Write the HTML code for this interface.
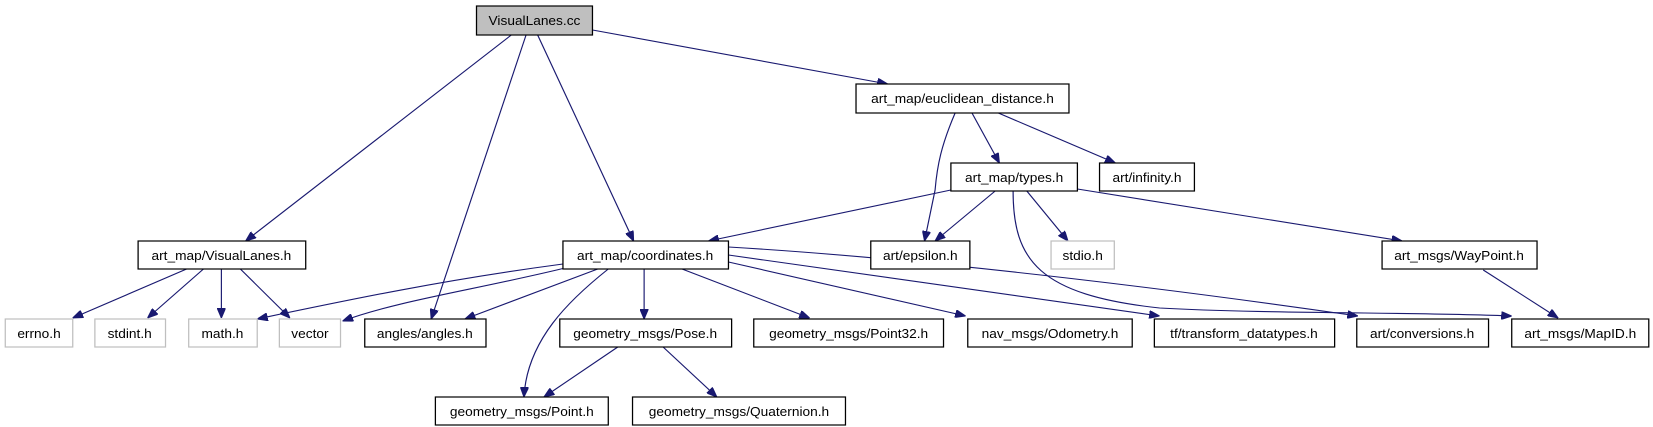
<!DOCTYPE html>
<html><head><meta charset="utf-8"><style>
html,body{margin:0;padding:0;background:#fff;}
svg{display:block}
text{font-family:"Liberation Sans",sans-serif;font-size:13px;fill:#000}
.e{stroke:#191970;stroke-width:1.1;fill:none;marker-end:url(#a)}
.n{fill:#fff;stroke:#000;stroke-width:1.2}
.g{fill:#fff;stroke:#bfbfbf;stroke-width:1.2}
</style></head><body>
<svg width="1653" height="427" viewBox="0 0 1568 427" preserveAspectRatio="none" xmlns="http://www.w3.org/2000/svg">
<defs><marker id="a" viewBox="0 0 10 8" refX="10" refY="4" markerWidth="10" markerHeight="8" markerUnits="userSpaceOnUse" orient="auto"><path d="M0,0 L10,4 L0,8 z" fill="#191970" stroke="#191970"/></marker></defs>
<g>
<path class="e" d="M485,35 L233,241"/>
<path class="e" d="M499,35 L409,319"/>
<path class="e" d="M510,35 L601,241"/>
<path class="e" d="M562,30 L842,84"/>
<path class="e" d="M906,113 C893,145 889,165 887,190 L877,241"/>
<path class="e" d="M922,113 L948,163"/>
<path class="e" d="M947,113 L1058,163"/>
<path class="e" d="M902,190 L672,241"/>
<path class="e" d="M944,191 L887,241"/>
<path class="e" d="M974,191 L1013,241"/>
<path class="e" d="M1022,189 L1330,241"/>
<path class="e" d="M961,191 C961,260 985,295 1100,308 C1200,314 1350,312 1434,316"/>
<path class="e" d="M691,247 C900,260 1150,295 1288,316"/>
<path class="e" d="M691,255 L1100,316"/>
<path class="e" d="M691,262 L916,316"/>
<path class="e" d="M647,269 L768,318"/>
<path class="e" d="M611,269 L611,319"/>
<path class="e" d="M577,269 C540,300 500,340 497,397"/>
<path class="e" d="M567,269 L441,319"/>
<path class="e" d="M536,268 C450,290 380,300 325,321"/>
<path class="e" d="M534,264 C420,280 330,300 244,319"/>
<path class="e" d="M177,269 L69,318"/>
<path class="e" d="M193,269 L140,318"/>
<path class="e" d="M210,269 L210,318"/>
<path class="e" d="M228,269 L275,318"/>
<path class="e" d="M586,347 L516,397"/>
<path class="e" d="M629,347 L680,397"/>
<path class="e" d="M1407,270 L1478,318"/>
</g>
<g>
<rect x="452" y="6" width="110" height="29" fill="#bfbfbf" stroke="#000" stroke-width="1.2"/>
<text x="507" y="25" text-anchor="middle">VisualLanes.cc</text>

<rect class="n" x="812" y="84" width="202" height="29"/><text x="913" y="103" text-anchor="middle">art_map/euclidean_distance.h</text>
<rect class="n" x="902" y="163" width="120" height="28"/><text x="962" y="182" text-anchor="middle">art_map/types.h</text>
<rect class="n" x="1043" y="163" width="90" height="28"/><text x="1088" y="182" text-anchor="middle">art/infinity.h</text>

<rect class="n" x="131" y="241" width="159" height="28"/><text x="210" y="260" text-anchor="middle">art_map/VisualLanes.h</text>
<rect class="n" x="534" y="241" width="157" height="28"/><text x="612" y="260" text-anchor="middle">art_map/coordinates.h</text>
<rect class="n" x="826" y="241" width="94" height="28"/><text x="873" y="260" text-anchor="middle">art/epsilon.h</text>
<rect class="g" x="997" y="241" width="60" height="28"/><text x="1027" y="260" text-anchor="middle">stdio.h</text>
<rect class="n" x="1311" y="241" width="147" height="28"/><text x="1384" y="260" text-anchor="middle">art_msgs/WayPoint.h</text>

<rect class="g" x="5" y="319" width="64" height="28"/><text x="37" y="338" text-anchor="middle">errno.h</text>
<rect class="g" x="90" y="319" width="67" height="28"/><text x="123" y="338" text-anchor="middle">stdint.h</text>
<rect class="g" x="179" y="319" width="65" height="28"/><text x="211" y="338" text-anchor="middle">math.h</text>
<rect class="g" x="265" y="319" width="58" height="28"/><text x="294" y="338" text-anchor="middle">vector</text>
<rect class="n" x="346" y="319" width="115" height="28"/><text x="403" y="338" text-anchor="middle">angles/angles.h</text>
<rect class="n" x="531" y="319" width="163" height="28"/><text x="612" y="338" text-anchor="middle">geometry_msgs/Pose.h</text>
<rect class="n" x="715" y="319" width="180" height="28"/><text x="805" y="338" text-anchor="middle">geometry_msgs/Point32.h</text>
<rect class="n" x="918" y="319" width="156" height="28"/><text x="996" y="338" text-anchor="middle">nav_msgs/Odometry.h</text>
<rect class="n" x="1095" y="319" width="171" height="28"/><text x="1180" y="338" text-anchor="middle">tf/transform_datatypes.h</text>
<rect class="n" x="1287" y="319" width="125" height="28"/><text x="1349" y="338" text-anchor="middle">art/conversions.h</text>
<rect class="n" x="1434" y="319" width="130" height="28"/><text x="1499" y="338" text-anchor="middle">art_msgs/MapID.h</text>

<rect class="n" x="413" y="397" width="164" height="28"/><text x="495" y="416" text-anchor="middle">geometry_msgs/Point.h</text>
<rect class="n" x="600" y="397" width="202" height="28"/><text x="701" y="416" text-anchor="middle">geometry_msgs/Quaternion.h</text>
</g>
</svg>
</body></html>
